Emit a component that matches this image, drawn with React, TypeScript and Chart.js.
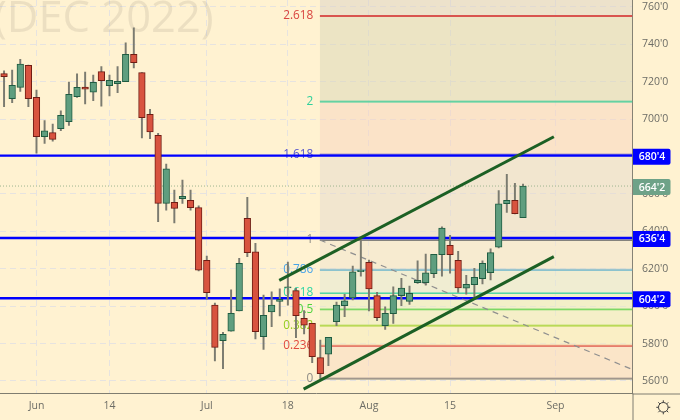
import React, { useEffect, useRef } from "react";
import { Chart, registerables } from "chart.js";

Chart.register(...registerables);

const opens = [724.4,711.0,717.0,728.8,711.7,690.6,692.8,694.9,698.7,712.0,717.2,714.5,725.4,717.9,719.0,720.0,734.7,724.9,702.6,691.4,655.0,655.6,657.5,656.6,652.7,624.5,600.6,581.6,586.7,597.4,647.0,629.1,583.7,596.9,602.6,609.7,608.3,593.5,590.8,572.5,574.4,591.7,600.3,604.4,618.4,623.5,605.6,589.6,596.0,605.6,602.6,612.6,612.6,617.4,627.5,632.6,624.5,609.6,611.5,614.7,617.9,631.5,654.8,656.6,647.3];
const closes = [722.7,718.1,729.5,711.0,690.6,693.8,689.2,702.1,713.3,717.0,716.0,719.7,720.6,720.8,720.3,734.7,730.2,700.8,693.2,655.0,673.4,652.3,658.8,652.7,619.2,607.2,578.0,585.0,596.2,622.9,628.6,586.4,595.1,600.6,603.7,610.3,594.9,589.8,573.0,563.9,583.4,600.6,602.8,618.4,619.3,609.2,593.8,596.2,605.6,609.7,606.9,613.8,617.9,627.7,641.8,627.5,609.7,611.7,615.4,622.9,628.6,654.7,656.6,649.5,664.2];
const highs = [725.8,726.3,732.0,729.0,715.6,699.2,697.4,704.5,719.9,724.2,725.2,723.6,728.1,723.6,728.1,740.9,748.9,724.9,705.3,692.5,676.0,662.1,667.5,662.1,653.6,626.8,601.7,586.0,608.7,625.6,658.2,633.6,606.0,607.7,609.3,623.6,609.6,597.6,590.8,581.9,583.4,602.2,606.4,621.5,636.3,624.7,607.4,599.7,610.4,614.9,610.8,624.2,627.9,627.7,642.5,637.9,629.3,616.5,620.3,624.2,630.7,661.8,670.5,665.7,665.3];
const lows = [706.7,708.8,714.9,706.7,681.8,687.1,688.2,693.8,696.7,711.7,708.1,709.9,707.0,712.4,714.2,720.0,727.4,690.0,689.6,645.2,651.4,644.5,655.0,651.4,618.8,603.7,570.7,566.6,586.7,597.4,626.5,582.5,576.9,589.0,594.8,600.6,583.2,585.1,569.8,561.4,568.2,589.6,594.4,603.3,616.1,597.4,592.2,587.6,590.8,600.3,601.0,612.2,611.2,615.2,616.1,617.6,607.4,606.4,603.7,611.9,614.0,631.1,650.2,649.3,647.3];

const xTickLabels: Record<number, string> = { 4: "Jun", 13: "14", 25: "Jul", 35: "18", 45: "Aug", 55: "15", 68: "Sep" };
const slotCount = 78;
const categories = Array.from({ length: slotCount }, (_, i) => String(i));

const fibRatios = ["2.618", "2", "1.618", "1", "0.786", "0.618", "0.5", "0.382", "0.236", "0"];
const fibPrices = [755.2, 709.5, 681.1, 635.4, 619.5, 607.0, 598.3, 589.6, 578.8, 561.3];
const fibLineColors = ["#d9544f", "#3fd19b", "#5b5bd6", "#84827c", "#6ab4cc", "#55d6a4", "#6ed657", "#a8d334", "#e0594f", "#84827c"];
const fibTextColors = ["#d9443f", "#2fd09b", "#5555cc", "#8d8b84", "#48a4e8", "#2fd6a4", "#4fd23c", "#94cc1e", "#e0493f", "#8d8b84"];
const bandColors = [
  "rgba(217,214,183,.5)", "rgba(247,212,191,.5)", "rgba(229,218,205,.5)", "rgba(239,228,207,.5)",
  "rgba(225,232,211,.5)", "rgba(229,236,191,.5)", "rgba(235,236,191,.5)", "rgba(245,236,185,.5)",
  "rgba(247,216,191,.5)", "rgba(0,0,0,0)",
];
const topBandColor = "rgba(219,210,197,.5)";

const levelPrices = [680.5, 636.5, 604.25];
const levelTags = ["680'4", "636'4", "604'2"];
const lastPrice = 664.25;
const lastTag = "664'2";

const upperTrendX = [33.94, 67.8];
const upperTrendY = [613.8, 690.6];
const lowerTrendX = [36.94, 67.8];
const lowerTrendY = [555.6, 626.5];
const dashedX = [38.95, 77.5];
const dashedY = [635.4, 566.1];

const fibStart = 38.95;
const priceMin = 553.3;
const priceMax = 763.74;
const FONT = '"Open Sans", sans-serif';

const overlay = {
  id: "overlay",
  beforeDraw(chart: any) {
    const { ctx, width, height } = chart;
    ctx.save();
    ctx.fillStyle = "#fff2d1";
    ctx.fillRect(0, 0, width, height);
    ctx.restore();
  },
  beforeDatasetsDraw(chart: any) {
    const { ctx, scales } = chart;
    ctx.save();
    ctx.fillStyle = "rgba(120,115,100,.14)";
    ctx.font = `43.5px ${FONT}`;
    ctx.textAlign = "left";
    ctx.textBaseline = "alphabetic";
    ctx.fillText("(DEC 2022)", -6, 32);
    ctx.font = `500 11.8px ${FONT}`;
    ctx.textAlign = "right";
    ctx.textBaseline = "middle";
    const xr = scales.xl.getPixelForValue(fibStart - 0.82);
    fibRatios.forEach((r, i) => {
      ctx.fillStyle = fibTextColors[i];
      ctx.fillText(r, xr, scales.y.getPixelForValue(fibPrices[i]));
    });
    ctx.restore();
  },
  afterDraw(chart: any) {
    const { ctx, scales, chartArea } = chart;
    ctx.save();
    ctx.strokeStyle = "#7f7d70";
    ctx.lineWidth = 1;
    ctx.beginPath();
    ctx.moveTo(chartArea.right + 0.5, chartArea.bottom);
    ctx.lineTo(chartArea.right + 0.5, chart.height);
    ctx.moveTo(chartArea.right, chartArea.bottom + 0.5);
    ctx.lineTo(chart.width, chartArea.bottom + 0.5);
    ctx.stroke();

    const tag = (price: number, text: string, color: string) => {
      const y = scales.y.getPixelForValue(price);
      ctx.fillStyle = color;
      ctx.beginPath();
      ctx.roundRect(chartArea.right + 0.5, y - 7, 37.5, 16, [0, 2, 2, 0]);
      ctx.fill();
      ctx.fillStyle = "#ffffff";
      ctx.font = `600 10.5px ${FONT}`;
      ctx.textAlign = "center";
      ctx.textBaseline = "middle";
      ctx.fillText(text, chartArea.right + 19.5, y + 1.5);
    };
    tag(lastPrice, lastTag, "#6ea288");
    levelPrices.forEach((p, i) => tag(p, levelTags[i], "#0000ff"));

    const cx = 663.3;
    const cy = 407.3;
    ctx.strokeStyle = "#3c3c3c";
    ctx.lineWidth = 1;
    ctx.beginPath();
    ctx.arc(cx, cy, 4.8, 0, Math.PI * 2);
    for (let k = 0; k < 8; k++) {
      const a = (k * Math.PI) / 4;
      ctx.moveTo(cx + Math.cos(a) * 4.8, cy + Math.sin(a) * 4.8);
      ctx.lineTo(cx + Math.cos(a) * 7, cy + Math.sin(a) * 7);
    }
    ctx.stroke();
    ctx.restore();
  },
};

const seg = (xs: number[], ys: number[]) => [{ x: xs[0], y: ys[0] }, { x: xs[1], y: ys[1] }];
const hLine = (from: number, price: number) => seg([from, 77.5], [price, price]);

export default function App() {
  const ref = useRef<HTMLCanvasElement>(null);
  useEffect(() => {
    document.body.style.margin = "0";
    const base = { type: "line", xAxisID: "xl", yAxisID: "y", pointRadius: 0, tension: 0 };
    const isUp = (i: number) => closes[i] >= opens[i];
    const datasets: any[] = [
      { ...base, label: "top", data: hLine(fibStart, priceMax), borderWidth: 0, borderColor: "rgba(0,0,0,0)", backgroundColor: topBandColor, fill: "+1", order: 60 },
      ...fibPrices.map((p, i) => ({
        ...base,
        label: `fib ${fibRatios[i]}`,
        data: hLine(fibStart, p),
        borderColor: fibLineColors[i],
        borderWidth: 2,
        backgroundColor: bandColors[i],
        fill: i < fibPrices.length - 1 ? "+1" : false,
        order: 50,
      })),
      { ...base, label: "last", data: hLine(-0.5, lastPrice), borderColor: "#9db58f", borderWidth: 1, borderDash: [1, 2], fill: false, order: 45 },
      ...levelPrices.map((p, i) => ({ ...base, label: levelTags[i], data: hLine(-0.5, p), borderColor: "#0000ff", borderWidth: 2.4, fill: false, order: 40 })),
      { ...base, label: "dashed", data: seg(dashedX, dashedY), borderColor: "#8f8f8f", borderWidth: 1.2, borderDash: [6, 5], fill: false, order: 30 },
      {
        type: "bar", label: "wick", data: lows.map((l, i) => [l, highs[i]]), grouped: false, barThickness: 1.3,
        backgroundColor: "#7b7b70", borderWidth: 0, order: 20,
      },
      {
        type: "bar", label: "body", data: opens.map((o, i) => [o, closes[i]]), grouped: false, barThickness: 6.6,
        backgroundColor: opens.map((_, i) => (isUp(i) ? "#5f9e7f" : "#d8533f")),
        borderColor: opens.map((_, i) => (isUp(i) ? "#1f5c41" : "#701d14")),
        borderWidth: 1, borderSkipped: false, order: 10,
      },
      { ...base, label: "upper", data: seg(upperTrendX, upperTrendY), borderColor: "#1c6024", borderWidth: 3, fill: false, order: 5 },
      { ...base, label: "lower", data: seg(lowerTrendX, lowerTrendY), borderColor: "#1c6024", borderWidth: 3, fill: false, order: 5 },
    ];
    const gridColor = "#e6e3e0";
    const chart = new Chart(ref.current as HTMLCanvasElement, {
      type: "bar",
      data: { labels: categories, datasets },
      plugins: [overlay],
      options: {
        responsive: false,
        animation: false,
        devicePixelRatio: 1,
        layout: { padding: 0 },
        plugins: { legend: { display: false }, tooltip: { enabled: false } },
        events: [],
        scales: {
          x: {
            type: "category",
            offset: true,
            grid: {
              offset: false,
              drawTicks: false,
              tickLength: 0,
              color: (c: any) => (xTickLabels[c.index] ? gridColor : "rgba(0,0,0,0)"),
            },
            border: { display: true, color: "#7f7d70", width: 1, dash: [6, 4] },
            ticks: {
              autoSkip: false,
              maxRotation: 0,
              padding: 6,
              color: "#6d6d66",
              font: { family: "Open Sans", size: 10.5 },
              callback: (_: any, i: number) => xTickLabels[i] ?? "",
            },
            afterFit: (s: any) => {
              s.height = 26.5;
              s.paddingLeft = 0;
              s.paddingRight = 0;
            },
          },
          xl: { type: "linear", display: false, offset: false, min: -0.5, max: 77.5, grid: { offset: false } },
          y: {
            type: "linear",
            position: "right",
            min: priceMin,
            max: priceMax,
            ticks: {
              stepSize: 20,
              includeBounds: false,
              padding: 9.5,
              color: "#6d6d66",
              font: { family: "Open Sans", size: 10.5 },
              callback: (v: any) => `${v}'0`,
            },
            grid: { drawTicks: false, tickLength: 0, color: gridColor },
            border: { display: true, color: "#7f7d70", width: 1, dash: [6, 4] },
            afterFit: (s: any) => {
              s.width = 47.5;
              s.paddingTop = 0;
              s.paddingBottom = 0;
            },
          },
        },
      } as any,
    } as any);
    return () => chart.destroy();
  }, []);
  return <canvas ref={ref} width={680} height={420} style={{ display: "block" }} />;
}
